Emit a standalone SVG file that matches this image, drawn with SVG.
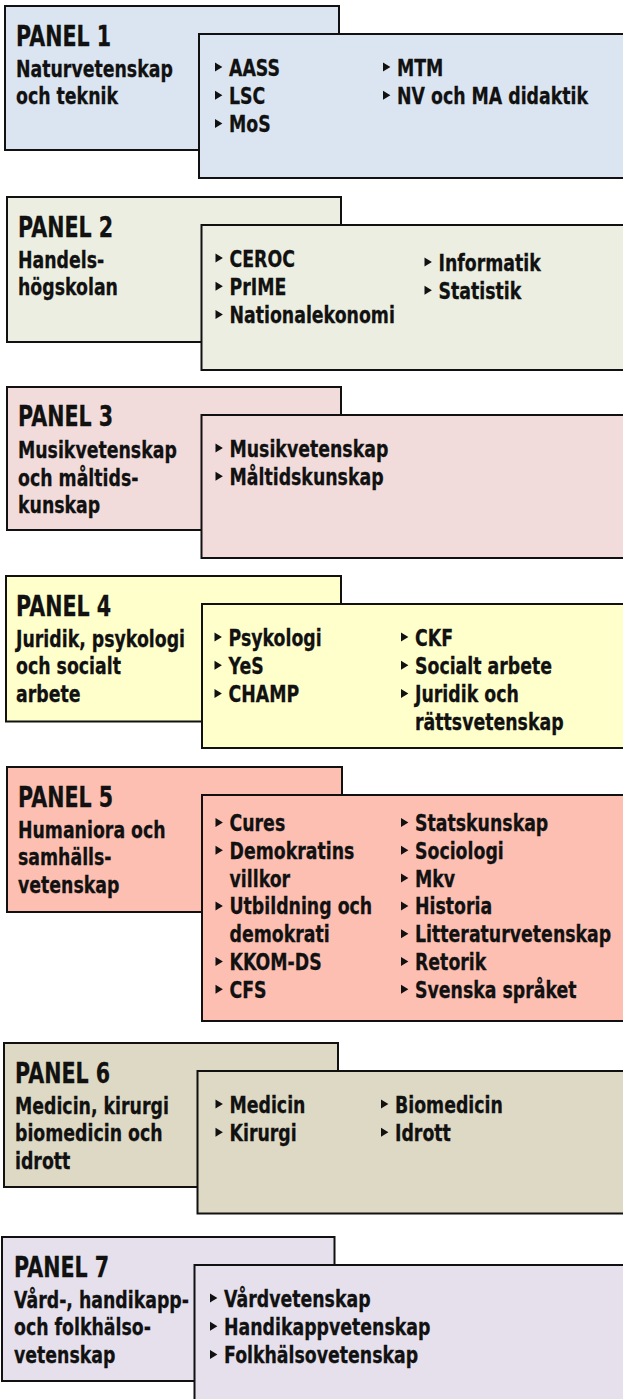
<svg xmlns="http://www.w3.org/2000/svg" xmlns:xlink="http://www.w3.org/1999/xlink" width="623" height="1399" viewBox="0 0 623 1399">
<style>
rect.b{stroke:#111;stroke-width:2}
text{font-family:"DejaVu Sans","Liberation Sans",sans-serif;font-weight:700;fill:#111;stroke:#111;stroke-width:0.3}
.h{font-size:27.5px}
.t{font-size:22.4px}
</style>
<defs>
<polygon id="bul" points="0,-0.5 7.4,4 0,8.5" fill="#111"/>
</defs>
<rect width="623" height="1399" fill="#fff"/>

<g id="panel1">
<rect class="b" x="5" y="6" width="334" height="144" fill="#DBE5F1"/>
<rect class="b" x="199" y="34" width="440" height="144" fill="#DBE5F1"/>
<text class="h" transform="translate(16,45.5) scale(0.75,1)">PANEL 1</text>
<text class="t" transform="translate(16,76.5) scale(0.775,1)">Naturvetenskap</text>
<text class="t" transform="translate(16,104) scale(0.775,1)">och teknik</text>
<use xlink:href="#bul" x="215" y="63"/><text class="t" transform="translate(229,75.5) scale(0.775,1)">AASS</text>
<use xlink:href="#bul" x="215" y="91.3"/><text class="t" transform="translate(229,103.8) scale(0.775,1)">LSC</text>
<use xlink:href="#bul" x="215" y="119.6"/><text class="t" transform="translate(229,132.1) scale(0.775,1)">MoS</text>
<use xlink:href="#bul" x="383" y="63"/><text class="t" transform="translate(397,75.5) scale(0.775,1)">MTM</text>
<use xlink:href="#bul" x="383" y="91.3"/><text class="t" transform="translate(397,103.8) scale(0.775,1)">NV och MA didaktik</text>
</g>

<g id="panel2">
<rect class="b" x="7" y="197" width="334" height="145" fill="#EBEEE0"/>
<rect class="b" x="201.5" y="225" width="440" height="145" fill="#EBEEE0"/>
<text class="h" transform="translate(18,236.5) scale(0.75,1)">PANEL 2</text>
<text class="t" transform="translate(18,267.5) scale(0.775,1)">Handels-</text>
<text class="t" transform="translate(18,295) scale(0.775,1)">högskolan</text>
<use xlink:href="#bul" x="215.5" y="254"/><text class="t" transform="translate(229.5,266.5) scale(0.775,1)">CEROC</text>
<use xlink:href="#bul" x="215.5" y="282.3"/><text class="t" transform="translate(229.5,294.8) scale(0.775,1)">PrIME</text>
<use xlink:href="#bul" x="215.5" y="310.6"/><text class="t" transform="translate(229.5,323.1) scale(0.775,1)">Nationalekonomi</text>
<use xlink:href="#bul" x="424.5" y="258"/><text class="t" transform="translate(438.5,270.5) scale(0.775,1)">Informatik</text>
<use xlink:href="#bul" x="424.5" y="286.3"/><text class="t" transform="translate(438.5,298.8) scale(0.775,1)">Statistik</text>
</g>

<g id="panel3">
<rect class="b" x="7" y="387" width="334" height="143" fill="#F2DCDB"/>
<rect class="b" x="201.5" y="415" width="440" height="143" fill="#F2DCDB"/>
<text class="h" transform="translate(18,425.5) scale(0.75,1)">PANEL 3</text>
<text class="t" transform="translate(18,458) scale(0.775,1)">Musikvetenskap</text>
<text class="t" transform="translate(18,485.5) scale(0.775,1)">och måltids-</text>
<text class="t" transform="translate(18,513) scale(0.775,1)">kunskap</text>
<use xlink:href="#bul" x="215.5" y="444"/><text class="t" transform="translate(229.5,456.5) scale(0.775,1)">Musikvetenskap</text>
<use xlink:href="#bul" x="215.5" y="472.3"/><text class="t" transform="translate(229.5,484.8) scale(0.775,1)">Måltidskunskap</text>
</g>

<g id="panel4">
<rect class="b" x="6" y="576" width="335" height="145.5" fill="#FFFFCC"/>
<rect class="b" x="202" y="604" width="440" height="144" fill="#FFFFCC"/>
<text class="h" transform="translate(16,615.5) scale(0.75,1)">PANEL 4</text>
<text class="t" transform="translate(16,646.5) scale(0.775,1)">Juridik, psykologi</text>
<text class="t" transform="translate(16,674) scale(0.775,1)">och socialt</text>
<text class="t" transform="translate(16,701.5) scale(0.775,1)">arbete</text>
<use xlink:href="#bul" x="214.5" y="633"/><text class="t" transform="translate(228.5,645.5) scale(0.775,1)">Psykologi</text>
<use xlink:href="#bul" x="214.5" y="661.3"/><text class="t" transform="translate(228.5,673.8) scale(0.775,1)">YeS</text>
<use xlink:href="#bul" x="214.5" y="689.6"/><text class="t" transform="translate(228.5,702.1) scale(0.775,1)">CHAMP</text>
<use xlink:href="#bul" x="401" y="633"/><text class="t" transform="translate(415,645.5) scale(0.775,1)">CKF</text>
<use xlink:href="#bul" x="401" y="661.3"/><text class="t" transform="translate(415,673.8) scale(0.775,1)">Socialt arbete</text>
<use xlink:href="#bul" x="401" y="689.6"/><text class="t" transform="translate(415,702.1) scale(0.775,1)">Juridik och</text>
<text class="t" transform="translate(415,730.4) scale(0.775,1)">rättsvetenskap</text>
</g>

<g id="panel5">
<rect class="b" x="7" y="767" width="335" height="145" fill="#FCBFB2"/>
<rect class="b" x="202" y="795" width="440" height="226" fill="#FCBFB2"/>
<text class="h" transform="translate(18,806.5) scale(0.75,1)">PANEL 5</text>
<text class="t" transform="translate(18,837.5) scale(0.775,1)">Humaniora och</text>
<text class="t" transform="translate(18,865) scale(0.775,1)">samhälls-</text>
<text class="t" transform="translate(18,892.5) scale(0.775,1)">vetenskap</text>
<use xlink:href="#bul" x="215.5" y="818.5"/><text class="t" transform="translate(229.5,831) scale(0.775,1)">Cures</text>
<use xlink:href="#bul" x="215.5" y="846.3"/><text class="t" transform="translate(229.5,858.8) scale(0.775,1)">Demokratins</text>
<text class="t" transform="translate(229.5,886.6) scale(0.775,1)">villkor</text>
<use xlink:href="#bul" x="215.5" y="901.9"/><text class="t" transform="translate(229.5,914.4) scale(0.775,1)">Utbildning och</text>
<text class="t" transform="translate(229.5,942.2) scale(0.775,1)">demokrati</text>
<use xlink:href="#bul" x="215.5" y="957.5"/><text class="t" transform="translate(229.5,970) scale(0.775,1)">KKOM-DS</text>
<use xlink:href="#bul" x="215.5" y="985.3"/><text class="t" transform="translate(229.5,997.8) scale(0.775,1)">CFS</text>
<use xlink:href="#bul" x="401" y="818.5"/><text class="t" transform="translate(415,831) scale(0.775,1)">Statskunskap</text>
<use xlink:href="#bul" x="401" y="846.3"/><text class="t" transform="translate(415,858.8) scale(0.775,1)">Sociologi</text>
<use xlink:href="#bul" x="401" y="874.1"/><text class="t" transform="translate(415,886.6) scale(0.775,1)">Mkv</text>
<use xlink:href="#bul" x="401" y="901.9"/><text class="t" transform="translate(415,914.4) scale(0.775,1)">Historia</text>
<use xlink:href="#bul" x="401" y="929.7"/><text class="t" transform="translate(415,942.2) scale(0.775,1)">Litteraturvetenskap</text>
<use xlink:href="#bul" x="401" y="957.5"/><text class="t" transform="translate(415,970) scale(0.775,1)">Retorik</text>
<use xlink:href="#bul" x="401" y="985.3"/><text class="t" transform="translate(415,997.8) scale(0.775,1)">Svenska språket</text>
</g>

<g id="panel6">
<rect class="b" x="4" y="1043" width="334" height="144" fill="#DDD9C4"/>
<rect class="b" x="197.5" y="1071" width="440" height="142.5" fill="#DDD9C4"/>
<text class="h" transform="translate(15,1082.5) scale(0.75,1)">PANEL 6</text>
<text class="t" transform="translate(15,1113.5) scale(0.775,1)">Medicin, kirurgi</text>
<text class="t" transform="translate(15,1141) scale(0.775,1)">biomedicin och</text>
<text class="t" transform="translate(15,1168.5) scale(0.775,1)">idrott</text>
<use xlink:href="#bul" x="215.5" y="1100"/><text class="t" transform="translate(229.5,1112.5) scale(0.775,1)">Medicin</text>
<use xlink:href="#bul" x="215.5" y="1128.3"/><text class="t" transform="translate(229.5,1140.8) scale(0.775,1)">Kirurgi</text>
<use xlink:href="#bul" x="381" y="1100"/><text class="t" transform="translate(395,1112.5) scale(0.775,1)">Biomedicin</text>
<use xlink:href="#bul" x="381" y="1128.3"/><text class="t" transform="translate(395,1140.8) scale(0.775,1)">Idrott</text>
</g>

<g id="panel7">
<rect class="b" x="2" y="1237" width="332.5" height="144" fill="#E5E0EC"/>
<rect class="b" x="194.5" y="1265" width="440" height="150" fill="#E5E0EC"/>
<text class="h" transform="translate(14,1276.5) scale(0.75,1)">PANEL 7</text>
<text class="t" transform="translate(14,1307.5) scale(0.775,1)">Vård-, handikapp-</text>
<text class="t" transform="translate(14,1335) scale(0.775,1)">och folkhälso-</text>
<text class="t" transform="translate(14,1362.5) scale(0.775,1)">vetenskap</text>
<use xlink:href="#bul" x="210" y="1294"/><text class="t" transform="translate(224,1306.5) scale(0.775,1)">Vårdvetenskap</text>
<use xlink:href="#bul" x="210" y="1322.3"/><text class="t" transform="translate(224,1334.8) scale(0.775,1)">Handikappvetenskap</text>
<use xlink:href="#bul" x="210" y="1350.6"/><text class="t" transform="translate(224,1363.1) scale(0.775,1)">Folkhälsovetenskap</text>
</g>
</svg>
